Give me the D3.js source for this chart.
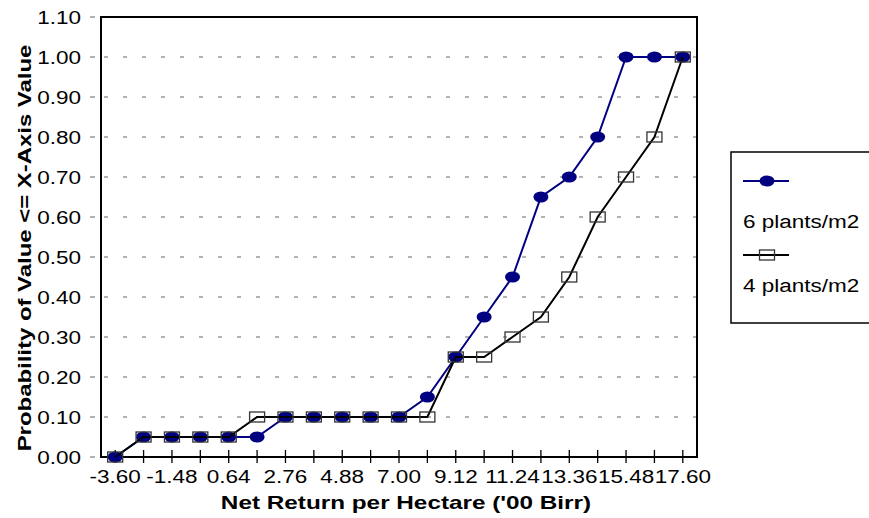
<!DOCTYPE html>
<html>
<head>
<meta charset="utf-8">
<script src="https://cdn.jsdelivr.net/npm/d3@7"></script>
<style>
  html, body { margin: 0; padding: 0; background: #fff; }
  text { font-family: 'Liberation Sans', Arial, sans-serif; fill: #000; }
</style>
</head>
<body>
<div id="chart"></div>
<script>
const X_LABELS = ['-3.60', '-2.54', '-1.48', '-0.42', '0.64', '1.70', '2.76', '3.82', '4.88', '5.94', '7.00',
	'8.06', '9.12', '10.18', '11.24', '12.30', '13.36', '14.42', '15.48', '16.54', '17.60']
const SIX_PLANTS = [0, 0.05, 0.05, 0.05, 0.05, 0.05, 0.1, 0.1, 0.1, 0.1, 0.1,
	0.15, 0.25, 0.35, 0.45, 0.65, 0.7, 0.8, 1.0, 1.0, 1.0]
const FOUR_PLANTS = [0, 0.05, 0.05, 0.05, 0.05, 0.1, 0.1, 0.1, 0.1, 0.1, 0.1,
	0.1, 0.25, 0.25, 0.3, 0.35, 0.45, 0.6, 0.7, 0.8, 1.0]
const Y_TICKS = [0, 0.1, 0.2, 0.3, 0.4, 0.5, 0.6, 0.7, 0.8, 0.9, 1.0, 1.1]
const SERIES_NAMES = ['6 plants/m2', '4 plants/m2']

const width = 869
const height = 518
const plot = { left: 101, right: 697, top: 17, bottom: 457 }
const SX = 1.25 // glyphs in the original are drawn wide

const svg = d3.select('#chart').append('svg')
	.attr('width', width)
	.attr('height', height)

const x = d3.scaleBand().domain(X_LABELS).range([plot.left, plot.right]).padding(0)
const cx = (d) => x(d) + x.bandwidth() / 2
const y = d3.scaleLinear().domain([0, 1.1]).range([plot.bottom, plot.top])

function wideText(g, tx, ty, str, opts = {}) {
	const t = g.append('text')
		.attr('transform', `translate(${tx},${ty})${opts.rotate ? ` rotate(${opts.rotate})` : ''} scale(${opts.sx || SX},1)`)
		.attr('text-anchor', opts.anchor || 'start')
		.style('font-size', (opts.size || 18) + 'px')
		.style('font-weight', opts.bold ? 'bold' : 'normal')
		.text(str)
	return t
}

// gridlines
svg.append('g')
	.selectAll('line')
	.data(Y_TICKS.filter((d) => d > 0 && d < 1.1))
	.join('line')
	.attr('x1', plot.left + 3)
	.attr('x2', plot.right)
	.attr('y1', (d) => y(d))
	.attr('y2', (d) => y(d))
	.attr('stroke', '#666')
	.attr('stroke-width', 1)
	.attr('stroke-dasharray', '4,15')

// y ticks and labels
const yAxis = svg.append('g')
yAxis.selectAll('line')
	.data(Y_TICKS)
	.join('line')
	.attr('x1', 90)
	.attr('x2', 95)
	.attr('y1', (d) => y(d))
	.attr('y2', (d) => y(d))
	.attr('stroke', '#666')
Y_TICKS.forEach((d) => wideText(yAxis, 81, y(d) + 6.5, d3.format('.2f')(d), { anchor: 'end' }))

// plot frame
svg.append('rect')
	.attr('x', plot.left)
	.attr('y', plot.top)
	.attr('width', plot.right - plot.left)
	.attr('height', plot.bottom - plot.top)
	.attr('fill', 'none')
	.attr('stroke', '#000')
	.attr('stroke-width', 2)

// x ticks
const xAxis = svg.append('g')
xAxis.selectAll('line')
	.data(X_LABELS)
	.join('line')
	.attr('x1', (d) => cx(d))
	.attr('x2', (d) => cx(d))
	.attr('y1', plot.bottom - 7)
	.attr('y2', plot.bottom + 6)
	.attr('stroke', '#000')
	.attr('stroke-width', 1.3)
X_LABELS.filter((d, i) => i % 2 === 0)
	.forEach((d) => wideText(xAxis, cx(d), 483, d, { anchor: 'middle' }))

// series: 6 plants/m2
const line = d3.line().x((d, i) => cx(X_LABELS[i])).y((d) => y(d))

svg.append('path')
	.attr('d', line(SIX_PLANTS))
	.attr('fill', 'none')
	.attr('stroke', '#000080')
	.attr('stroke-width', 2)

svg.append('g')
	.selectAll('ellipse')
	.data(SIX_PLANTS)
	.join('ellipse')
	.attr('cx', (d, i) => cx(X_LABELS[i]))
	.attr('cy', (d) => y(d))
	.attr('rx', 7.5)
	.attr('ry', 5.5)
	.attr('fill', '#000080')

// series: 4 plants/m2
svg.append('path')
	.attr('d', line(FOUR_PLANTS))
	.attr('fill', 'none')
	.attr('stroke', '#000')
	.attr('stroke-width', 2)

svg.append('g')
	.selectAll('rect')
	.data(FOUR_PLANTS)
	.join('rect')
	.attr('x', (d, i) => cx(X_LABELS[i]) - 7.5)
	.attr('y', (d) => y(d) - 5)
	.attr('width', 15)
	.attr('height', 10)
	.attr('fill', 'none')
	.attr('stroke', '#333')
	.attr('stroke-width', 1.3)

// axis titles
wideText(svg, 406, 509, "Net Return per Hectare ('00 Birr)", { anchor: 'middle', bold: true, sx: 1.35 })
wideText(svg, 31, 248, 'Probability of Value <= X-Axis Value', { anchor: 'middle', bold: true, sx: 1.33, rotate: -90 })

// legend
const legend = svg.append('g')
legend.append('rect')
	.attr('x', 731)
	.attr('y', 152)
	.attr('width', 160)
	.attr('height', 171)
	.attr('fill', '#fff')
	.attr('stroke', '#000')
	.attr('stroke-width', 1.5)

legend.append('line').attr('x1', 743).attr('x2', 789).attr('y1', 181).attr('y2', 181)
	.attr('stroke', '#000080').attr('stroke-width', 2)
legend.append('ellipse').attr('cx', 767).attr('cy', 181).attr('rx', 7.5).attr('ry', 5.5).attr('fill', '#000080')
wideText(legend, 743, 228, SERIES_NAMES[0])

legend.append('line').attr('x1', 743).attr('x2', 789).attr('y1', 255).attr('y2', 255)
	.attr('stroke', '#000').attr('stroke-width', 2)
legend.append('rect').attr('x', 759.5).attr('y', 250).attr('width', 15).attr('height', 10)
	.attr('fill', 'none').attr('stroke', '#333').attr('stroke-width', 1.3)
wideText(legend, 743, 292, SERIES_NAMES[1])
</script>
</body>
</html>
